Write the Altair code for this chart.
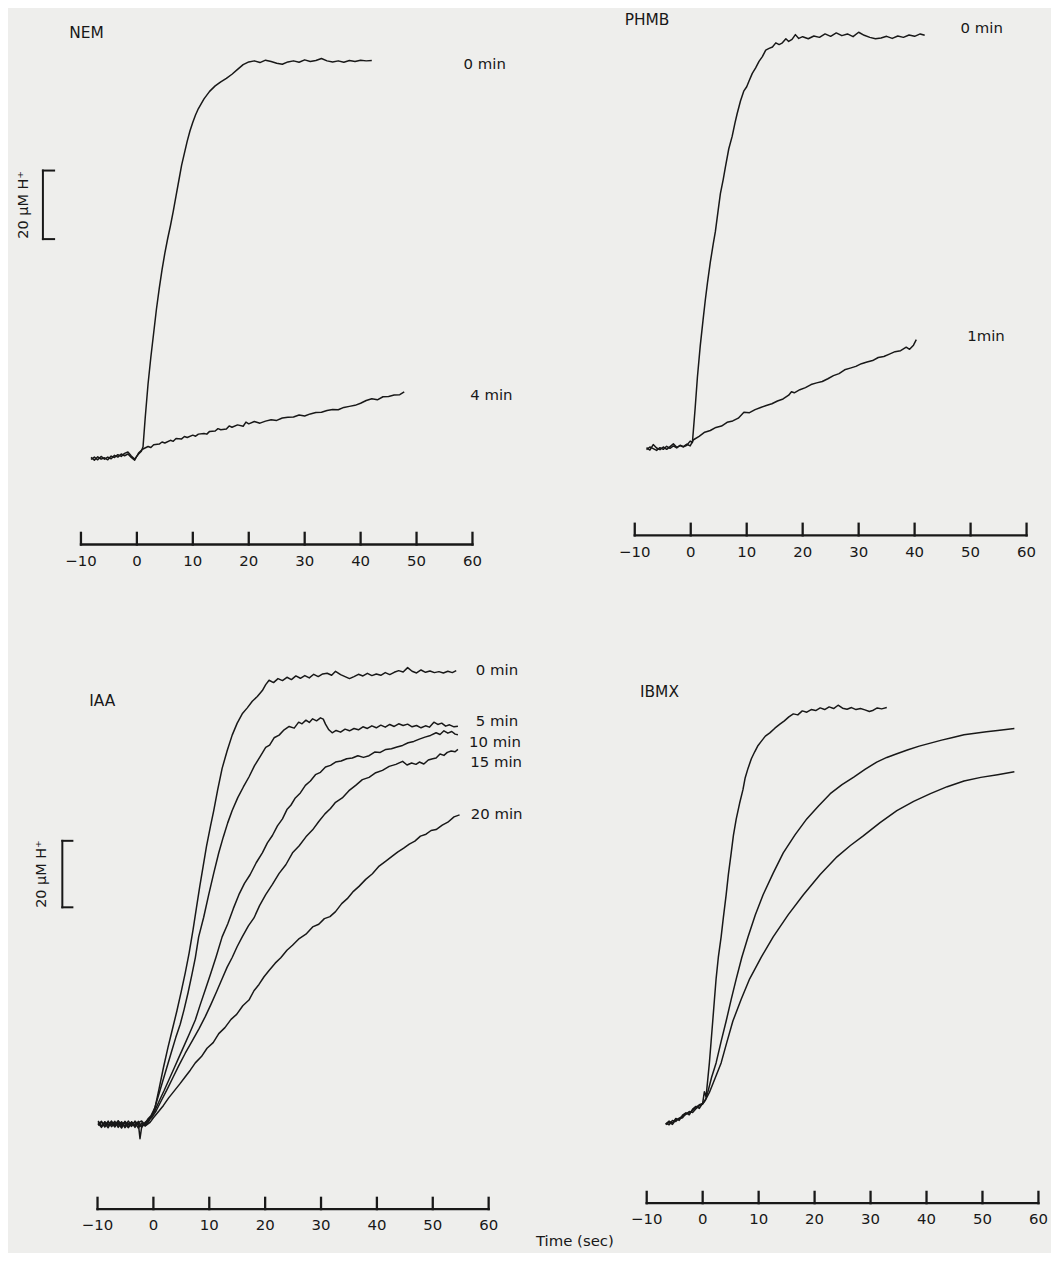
import altair as alt
import pandas as pd

# ---------------------------------------------------------------- data
TICKS = [-10, 0, 10, 20, 30, 40, 50, 60]
TICK_LABELS = ["\u221210", "0", "10", "20", "30", "40", "50", "60"]

# (time s, H+ uM)
NEM_0MIN = [(-8.2, 0.2), (-7.6, -0.6), (-7.0, 0.4), (-6.4, -0.3), (-5.8, 0.1), (-5.2, -0.5),
            (-4.6, 0.6), (-4.0, 0.2), (-3.4, 1.0), (-2.8, 0.5), (-2.2, 1.4), (-1.6, 1.8),
            (-1.0, 0.6), (-0.4, -0.3), (0.3, 1.2), (0.8, 2.0), (1.1, 3.3), (1.5, 12), (2.0, 21.7),
            (2.5, 29.5), (3.0, 36.5), (3.5, 43.5), (4.0, 49.5), (4.5, 55), (5.0, 59.8), (5.5, 64),
            (6.0, 67.8), (6.5, 72), (7.0, 76.5), (7.5, 81), (8.0, 85.5), (8.5, 89), (9.0, 92.5),
            (9.5, 95.5), (10, 98), (10.5, 100.2), (11, 102), (12, 104.8), (13, 107), (14, 108.6),
            (15, 109.8), (16, 110.8), (17, 112), (18, 113.4), (19, 114.8), (20, 115.6), (21, 115.9),
            (22, 115.4), (23, 116.1), (24, 115.7), (25, 115.2), (26, 114.9), (27, 115.6), (28, 115.9),
            (29, 115.5), (30, 116.2), (31, 115.7), (32, 116.0), (33, 116.6), (34, 115.9), (35, 115.6),
            (36, 115.9), (37, 115.5), (38, 116.0), (39, 115.7), (40, 116.1), (41, 115.9), (42, 116.0)]
NEM_4MIN = [(-8.2, -0.4), (-7.6, 0.3), (-7.0, -0.5), (-6.4, 0.5), (-5.8, -0.3), (-5.2, 0.3),
            (-4.6, -0.2), (-4.0, 0.8), (-3.4, 0.3), (-2.8, 1.2), (-2.2, 0.7), (-1.6, 1.2),
            (-1.0, 0.2), (-0.4, -0.6), (0.3, 1.5), (1, 2.6), (2, 3.4), (2.5, 3.1), (3, 3.9), (4, 4.1),
            (4.5, 4.7), (5, 4.4), (6, 5.2), (6.5, 4.9), (7, 5.7), (8, 5.6), (8.5, 6.3), (9, 6.0),
            (10, 6.7), (10.5, 6.4), (11, 7.0), (12, 7.2), (12.5, 7.0), (13, 7.8), (14, 7.9), (14.5, 8.6),
            (15, 8.3), (16, 8.5), (16.5, 9.4), (17, 9.0), (18, 9.7), (19, 9.3), (19.5, 10.5), (20, 10.0),
            (21, 10.7), (22, 10.2), (23, 10.8), (24, 11.2), (25, 11.0), (26, 11.7), (27, 11.9),
            (28, 12.0), (29, 12.6), (30, 12.3), (31, 12.9), (32, 13.3), (33, 13.4), (34, 13.9),
            (35, 14.2), (36, 14.1), (37, 14.8), (38, 15.1), (39, 15.4), (40, 16.0), (41, 16.8),
            (42, 17.3), (43, 17.0), (44, 17.9), (45, 18.0), (46, 18.4), (47, 18.5), (47.8, 19.3)]

PHMB_0MIN = [(-7.9, 0.3), (-7.3, -0.4), (-6.7, 1.2), (-6.1, 0.2), (-5.5, -0.3), (-4.9, 0.5),
             (-4.3, -0.2), (-3.7, 0.6), (-3.1, 1.4), (-2.5, 0.4), (-1.9, 0.9), (-1.3, 0.5),
             (-0.7, 1.0), (-0.1, 2.2), (0.3, 1.8), (0.8, 12), (1.2, 21), (1.7, 30), (2.2, 37.5),
             (2.6, 43.3), (3.0, 48.5), (3.5, 54.4), (4.0, 59.5), (4.4, 63.3), (4.9, 69.5), (5.3, 74.4),
             (5.8, 78.5), (6.2, 82.2), (6.8, 87.5), (7.4, 91.1), (7.9, 95), (8.3, 97.8), (8.9, 101.5),
             (9.5, 104.4), (10.0, 105.6), (10.4, 107.2), (11.0, 109.5), (11.6, 111.1), (12.2, 113),
             (12.8, 114.4), (13.4, 116.3), (14.0, 116.8), (14.6, 117.2), (15.2, 118.4), (15.8, 117.9),
             (16.3, 118.3), (17, 119.6), (17.5, 118.8), (18.1, 119.4), (18.7, 120.8), (19.3, 119.7),
             (20, 120.2), (21, 119.6), (22, 120.4), (23, 120.0), (24, 121.0), (25, 120.3), (26, 121.3),
             (27, 120.5), (28, 121.0), (29, 120.2), (30, 121.5), (31, 120.6), (32, 120.0), (33, 119.6),
             (34, 119.8), (35, 120.3), (36, 119.7), (37, 120.4), (38, 120.0), (39, 120.7), (40, 120.3),
             (41, 121.0), (41.8, 120.6)]
PHMB_1MIN = [(-7.9, -0.3), (-7.3, 0.5), (-6.7, 0.0), (-6.1, -0.5), (-5.5, 0.3), (-4.9, -0.2),
             (-4.3, 0.7), (-3.7, 0.1), (-3.1, 0.8), (-2.5, 0.2), (-1.9, 1.0), (-1.3, 0.6),
             (-0.7, 1.3), (-0.1, 0.8), (0.5, 2.6), (1.5, 3.6), (2.5, 4.8), (3.5, 5.3), (4.5, 6.2),
             (5.5, 6.6), (6.5, 7.7), (7.5, 8.1), (8.5, 8.9), (9.5, 10.6), (10.5, 10.5), (11.5, 11.4),
             (12.5, 12.0), (13.5, 12.6), (14.5, 13.1), (15.5, 13.9), (16.5, 14.5), (17.5, 15.6),
             (18.0, 16.6), (18.5, 16.3), (19.5, 17.2), (20.5, 17.8), (21.5, 18.7), (22.5, 19.2),
             (23.5, 19.6), (24.5, 20.4), (25.5, 21.3), (26.5, 21.9), (27.5, 23.0), (28.5, 23.5),
             (29.5, 24.0), (30.5, 24.8), (31.5, 25.3), (32.5, 25.7), (33.5, 26.6), (34.5, 26.9),
             (35.5, 27.6), (36.5, 28.3), (37.5, 28.6), (38.5, 29.6), (39.1, 29.0), (39.8, 30.2),
             (40.3, 31.8)]

IAA_0MIN = [(-9.9, 0.5), (-9.3, -0.8), (-8.7, 0.6), (-8.1, -0.4), (-7.5, 0.9), (-6.9, -0.6),
            (-6.3, 0.3), (-5.7, -1.2), (-5.1, 0.4), (-4.5, -0.9), (-3.9, 0.7), (-3.3, -0.5),
            (-2.7, 0.8), (-2.1, -1.0), (-1.5, 0.2), (-1.0, 1.5), (-0.4, 2.6), (0.3, 5.0), (1.0, 10.5),
            (1.8, 17.0), (2.6, 23.0), (3.4, 28.5), (4.2, 34.0), (5.0, 40.0), (5.7, 45.5), (6.4, 51.5),
            (7.1, 58.5), (7.7, 65.0), (8.3, 71.5), (8.9, 77.5), (9.5, 83.5), (10.2, 89.5), (10.8, 94.3),
            (11.5, 100.5), (12.3, 107), (13.2, 112.3), (14.1, 117), (15.0, 120.6), (15.9, 123.4),
            (16.8, 125.2), (17.7, 127.2), (18.6, 128.6), (19.5, 130.4), (20.1, 132.2), (20.7, 133.5),
            (21.5, 132.8), (22.3, 134.0), (23.1, 133.4), (23.9, 134.4), (24.7, 133.7), (25.5, 134.8),
            (26.3, 134.1), (27.1, 134.9), (27.9, 134.2), (28.7, 135.3), (29.5, 134.6), (30.3, 135.4),
            (31.1, 135.6), (31.9, 135.0), (32.6, 136.2), (33.5, 135.2), (34.3, 134.6), (35.1, 134.0),
            (35.9, 134.6), (36.7, 135.3), (37.5, 134.8), (38.3, 135.6), (39.1, 134.9), (39.9, 135.4),
            (40.7, 135.0), (41.5, 135.8), (42.3, 135.2), (43.1, 135.9), (43.9, 136.4), (44.7, 136.0),
            (45.5, 137.3), (46.3, 136.2), (47.1, 135.7), (47.9, 136.6), (48.7, 135.9), (49.5, 136.3),
            (50.3, 135.8), (51.1, 136.1), (51.9, 135.7), (52.7, 136.2), (53.5, 135.8), (54.2, 136.4)]
IAA_5MIN = [(-9.9, -0.4), (-9.3, 0.6), (-8.7, -0.9), (-8.1, 0.5), (-7.5, -0.3), (-6.9, 0.8),
            (-6.3, -1.0), (-5.7, 0.4), (-5.1, -0.7), (-4.5, 0.9), (-3.9, -0.4), (-3.3, 0.6),
            (-2.7, -1.2), (-2.1, 0.3), (-1.5, -0.6), (-0.9, 0.6), (0.0, 3.5), (0.8, 8.0), (1.6, 12.5),
            (2.4, 17.0), (3.2, 21.5), (4.0, 26.0), (4.8, 30.0), (5.5, 34.5), (6.2, 39.5), (6.9, 45.0),
            (7.5, 50.0), (8.1, 56.3), (9.0, 62.2), (9.9, 69), (10.8, 75.5), (11.7, 81.6), (12.5, 86.3),
            (13.3, 90.6), (14.1, 94.3), (15.1, 98.2), (16.1, 101.4), (17.1, 104.4), (18.1, 107.8),
            (19.1, 110.5), (20.1, 113.3), (20.8, 114.0), (21.6, 116.2), (22.5, 117.0), (23.4, 118.6),
            (24.3, 119.6), (25.2, 119.1), (26.0, 120.9), (26.6, 120.4), (27.3, 121.5), (27.9, 120.8),
            (28.5, 121.9), (29.2, 121.3), (29.9, 122.2), (30.4, 121.8), (30.8, 120.3), (31.4, 118.6),
            (32.0, 117.7), (32.7, 118.4), (33.5, 117.9), (34.3, 118.8), (35.1, 118.3), (35.9, 119.0),
            (36.7, 118.6), (37.5, 119.5), (38.3, 119.0), (39.1, 119.8), (39.9, 119.2), (40.7, 120.0),
            (41.5, 119.4), (42.3, 120.2), (43.1, 119.6), (43.9, 120.4), (44.7, 119.9), (45.5, 120.3),
            (46.3, 119.5), (47.1, 119.9), (47.9, 119.2), (48.7, 119.8), (49.4, 119.4), (50.2, 120.9),
            (50.9, 120.2), (51.6, 120.6), (52.3, 119.7), (53.0, 120.1), (53.8, 119.5), (54.5, 119.7)]
IAA_10MIN = [(-9.9, 0.9), (-9.3, -0.5), (-8.7, 0.2), (-8.1, -1.1), (-7.5, 0.6), (-6.9, -0.2),
             (-6.3, 1.0), (-5.7, -0.7), (-5.1, 0.8), (-4.5, -0.3), (-3.9, 0.5), (-3.3, -1.0),
             (-2.7, 0.4), (-2.1, 0.9), (-1.5, -0.2), (-0.6, 1.9), (0.2, 3.8), (1.0, 6.8), (1.9, 10.0),
             (2.8, 13.4), (3.7, 16.8), (4.6, 20.2), (5.5, 23.6), (6.5, 27.4), (7.5, 31.3), (8.4, 36.0),
             (9.3, 40.5), (10.2, 45.0), (11.2, 50.2), (12.3, 56.3), (13.3, 60.2), (14.3, 64.8),
             (15.3, 69), (16.3, 72.4), (17.3, 75.0), (18.4, 78.6), (19.5, 81.6), (20.4, 84.6),
             (21.3, 86.8), (22.2, 89.7), (23.1, 91.8), (23.9, 94.6), (24.6, 95.9), (25.4, 98.1),
             (26.3, 99.6), (27.2, 101.9), (28.1, 103.2), (29.0, 105.1), (29.9, 105.8), (30.8, 107.4),
             (31.7, 107.9), (32.6, 108.9), (33.6, 109.2), (34.6, 109.9), (35.6, 110.1), (36.6, 110.8),
             (37.6, 110.3), (38.6, 110.8), (39.6, 111.9), (40.6, 111.8), (41.6, 112.7), (42.6, 112.9),
             (43.6, 113.4), (44.6, 113.9), (45.6, 114.7), (46.6, 115.1), (47.6, 115.8), (48.6, 116.4),
             (49.6, 116.9), (50.6, 117.7), (51.3, 117.2), (52.0, 118.3), (52.7, 117.6), (53.4, 118.1),
             (54.0, 117.3), (54.5, 117.1)]
IAA_15MIN = [(-9.9, -0.2), (-9.3, 0.8), (-8.7, -0.6), (-8.1, 0.9), (-7.5, -0.8), (-6.9, 0.3),
             (-6.3, -0.4), (-5.7, 0.7), (-5.1, -1.1), (-4.5, 0.2), (-3.9, -0.7), (-3.3, 0.9),
             (-2.7, -0.2), (-2.1, -0.8), (-1.5, 0.5), (-0.3, 1.9), (0.5, 4.0), (1.5, 7.3), (2.5, 10.6),
             (3.5, 14.0), (4.5, 17.4), (5.7, 21.3), (7.0, 25.2), (8.2, 28.8), (9.3, 32.4), (10.3, 36.0),
             (11.3, 39.8), (12.3, 43.7), (13.2, 47.2), (14.1, 50.1), (15.0, 53.4), (15.9, 56.3),
             (17.0, 59.6), (18.0, 62.0), (19.0, 65.7), (20.1, 69), (21.3, 72.1), (22.5, 75.4),
             (23.7, 78.0), (24.9, 81.6), (26.1, 83.7), (27.3, 86.4), (28.5, 88.5), (29.6, 91.0),
             (30.7, 93.3), (31.7, 94.9), (32.6, 96.8), (33.8, 98.1), (35.0, 100.3), (36.2, 101.9),
             (37.4, 103.6), (38.6, 104.3), (39.8, 105.7), (41.0, 106.4), (42.2, 107.6), (43.4, 108.2),
             (44.6, 109.1), (45.4, 108.0), (46.2, 108.6), (47.0, 108.2), (47.6, 108.9), (48.4, 108.3),
             (49.2, 109.5), (50.0, 109.9), (50.6, 110.1), (51.3, 111.3), (52.0, 110.9), (52.6, 111.8),
             (53.3, 112.2), (54.0, 112.0), (54.5, 112.7)]
IAA_20MIN = [(-9.9, 0.2), (-9.3, -1.0), (-8.7, 0.7), (-8.1, -0.3), (-7.5, 0.4), (-6.9, -0.9),
             (-6.3, 0.8), (-5.7, -0.1), (-5.1, 0.6), (-4.5, -1.1), (-3.9, 0.3), (-3.3, -0.4),
             (-2.7, 0.2), (-2.4, -4.4), (-2.0, 0.3), (-1.4, -0.5), (-0.6, 0.5), (0, 1.9), (1.0, 3.9),
             (1.8, 5.6), (2.7, 7.8), (3.7, 9.9), (4.7, 12.0), (5.6, 14.0), (6.6, 16.2), (7.5, 18.4),
             (8.6, 20.3), (9.6, 22.8), (10.7, 24.5), (11.7, 27.2), (12.8, 29.0), (13.9, 31.5),
             (14.9, 33.0), (16.0, 35.6), (17.1, 37.3), (18.0, 40.1), (18.9, 42.0), (19.8, 44.3),
             (20.7, 46.2), (21.8, 48.4), (22.8, 50.0), (23.9, 52.3), (24.9, 53.8), (26.1, 55.8),
             (27.3, 57.1), (28.5, 59.3), (29.6, 60.1), (30.6, 61.8), (31.6, 62.4), (32.6, 63.9),
             (33.7, 66.3), (34.7, 67.8), (35.8, 70.0), (36.8, 71.5), (38.0, 73.6), (39.2, 75.3),
             (40.4, 77.6), (41.6, 79.1), (42.7, 80.5), (43.7, 81.8), (44.8, 83.0), (45.8, 84.2),
             (46.8, 85.1), (47.8, 86.6), (48.8, 87.2), (49.7, 88.3), (50.6, 88.6), (51.7, 89.9),
             (52.7, 90.8), (53.8, 92.4), (54.8, 93.0)]

IBMX_A = [(-6.6, -5.7), (-6.0, -4.8), (-5.4, -5.4), (-4.8, -4.0), (-4.2, -4.6), (-3.6, -3.0),
          (-3.0, -2.3), (-2.4, -2.9), (-1.8, -1.2), (-1.2, -0.4), (-0.6, -1.0), (0.0, 0.6),
          (0.3, 4.0), (0.6, 2.5), (0.9, 7.5), (1.2, 12.7), (1.5, 19.0), (1.8, 25.3), (2.1, 31.7),
          (2.4, 38), (2.8, 44.5), (3.3, 50.6), (3.7, 56.5), (4.2, 63.3), (4.6, 69.5), (5.1, 75.9),
          (5.5, 81.2), (6.0, 86.1), (6.6, 90.8), (7.2, 94.9), (7.6, 98.5), (8.1, 101.3), (8.7, 104.2),
          (9.3, 106.3), (9.9, 108.2), (10.5, 109.5), (11.2, 111.0), (12.0, 112.0), (12.9, 113.4),
          (13.8, 114.6), (14.6, 115.6), (15.4, 116.8), (16.2, 117.7), (17.0, 117.4), (17.8, 118.6),
          (18.6, 118.2), (19.4, 119.0), (20.2, 118.7), (21.0, 119.5), (21.8, 119.0), (22.6, 119.8),
          (23.4, 119.3), (24.2, 120.3), (25.0, 119.4), (25.8, 119.1), (26.6, 119.6), (27.4, 119.0),
          (28.2, 119.3), (29.0, 118.9), (29.8, 118.4), (30.5, 118.8), (31.2, 119.5), (32.0, 119.2),
          (32.9, 119.6)]
IBMX_B = [(-6.6, -5.4), (-6.0, -5.9), (-5.4, -4.6), (-4.8, -4.9), (-4.2, -3.9), (-3.6, -3.4),
          (-3.0, -2.8), (-2.4, -1.9), (-1.8, -2.2), (-1.2, -1.1), (-0.6, -0.2), (0.0, 0.3),
          (0.5, 1.5), (0.9, 3.8), (1.6, 8.4), (2.4, 12.7), (3.3, 19.2), (4.2, 25.3), (5.1, 31.8),
          (6.0, 38), (7.0, 44.5), (8.1, 50.6), (9.4, 57.2), (10.8, 63.3), (12.6, 69.8), (14.4, 75.9),
          (16.5, 81.3), (18.6, 86.1), (20.7, 90.0), (22.8, 93.7), (24.9, 96.4), (27.0, 98.7),
          (29.0, 101.0), (31.1, 103.2), (32.9, 104.6), (34.7, 105.7), (36.7, 106.9), (38.7, 108.0),
          (40.7, 108.9), (42.7, 109.8), (44.7, 110.6), (46.7, 111.4), (48.7, 111.9), (50.7, 112.3),
          (52.7, 112.7), (54.2, 113.0), (55.7, 113.3)]
IBMX_C = [(-6.6, -5.9), (-6.0, -5.2), (-5.4, -5.8), (-4.8, -4.4), (-4.2, -4.1), (-3.6, -3.8),
          (-3.0, -2.5), (-2.4, -2.4), (-1.8, -1.6), (-1.2, -0.7), (-0.6, 0.1), (0.0, 0.5),
          (0.6, 1.9), (1.2, 3.8), (2.2, 8.0), (3.3, 12.7), (4.3, 18.8), (5.4, 25.3), (6.9, 31.9),
          (8.4, 38), (10.5, 44.6), (12.6, 50.6), (15.3, 57.3), (18.0, 63.3), (21.0, 69.4),
          (24.0, 74.7), (26.4, 78.1), (28.7, 81), (31.7, 85.0), (34.7, 88.6), (37.7, 91.4),
          (40.7, 93.7), (43.7, 95.8), (46.7, 97.5), (49.7, 98.6), (52.7, 99.4), (55.7, 100.3)]

# ---------------------------------------------------------------- styling / layout
INK = "#181818"
PAPER = "#eeeeec"
FONT = "DejaVu Sans"
PANEL_W, PANEL_H = 524, 621

# panel-local pixel position of t=0 and of the 0-uM baseline, and the pixel scales
PANELS = [
    dict(name="NEM", zero_x=129.5, base_y=449.3, px_s=5.62, px_uM=3.444,
         series=[("0 min", NEM_0MIN), ("4 min", NEM_4MIN)],
         title=(-12.1, 124.1),
         labels=[("0 min", 58.4, 115.0), ("4 min", 59.6, 18.3)],
         axis=(-25.2, 3.4, -30.0),
         bar=dict(t=-16.8, t2=-14.8, lo=63.9, hi=83.9, label_t=-20.2)),
    dict(name="PHMB", zero_x=162.0, base_y=439.8, px_s=5.624, px_uM=3.444,
         series=[("0 min", PHMB_0MIN), ("1 min", PHMB_1MIN)],
         title=(-11.8, 125.0),
         labels=[("0 min", 48.2, 122.8), ("1min", 49.4, 32.8)],
         axis=(-25.3, 3.4, -30.1),
         bar=None),
    dict(name="IAA", zero_x=146.1, base_y=497.4, px_s=5.614, px_uM=3.34,
         series=[("0 min", IAA_0MIN), ("5 min", IAA_5MIN), ("10 min", IAA_10MIN),
                 ("15 min", IAA_15MIN), ("20 min", IAA_20MIN)],
         title=(-11.5, 127.2),
         labels=[("0 min", 57.7, 136.7), ("5 min", 57.7, 121.1), ("10 min", 56.5, 114.8),
                 ("15 min", 56.7, 108.9), ("20 min", 56.8, 93.3)],
         axis=(-25.6, 3.4, -30.4),
         bar=dict(t=-16.3, t2=-14.5, lo=65.2, hi=85.2, label_t=-19.9)),
    dict(name="IBMX", zero_x=174.0, base_y=478.4, px_s=5.623, px_uM=3.34,
         series=[("a", IBMX_A), ("b", IBMX_B), ("c", IBMX_C)],
         title=(-11.2, 124.3),
         labels=[],
         axis=(-29.5, 3.4, -34.2),
         bar=None,
         xlabel=("Time (sec)", -29.8, -40.9)),
]


def make_panel(p):
    xdom = [-p["zero_x"] / p["px_s"], (PANEL_W - p["zero_x"]) / p["px_s"]]
    ydom = [(p["base_y"] - PANEL_H) / p["px_uM"], p["base_y"] / p["px_uM"]]
    X = alt.X("t:Q", scale=alt.Scale(domain=xdom, nice=False, zero=False), axis=None)
    Y = alt.Y("v:Q", scale=alt.Scale(domain=ydom, nice=False, zero=False), axis=None)

    rows = []
    for name, pts in p["series"]:
        for t, v in pts:
            rows.append({"t": t, "v": v, "trace": name})
    traces = alt.Chart(pd.DataFrame(rows)).mark_line(
        color=INK, strokeWidth=1.5, strokeJoin="round"
    ).encode(x=X, y=Y, detail="trace:N")

    level, tick_len, lab_level = p["axis"]
    axis_rows = [{"t": TICKS[0], "t2": TICKS[-1], "v": level, "v2": level}]
    axis_rows += [{"t": k, "t2": k, "v": level, "v2": level + tick_len} for k in TICKS]
    axis = alt.Chart(pd.DataFrame(axis_rows)).mark_rule(
        color=INK, strokeWidth=2.3, strokeCap="square"
    ).encode(x=X, x2="t2:Q", y=Y, y2="v2:Q")

    tick_text = alt.Chart(pd.DataFrame(
        {"t": TICKS, "v": [lab_level] * len(TICKS), "text": TICK_LABELS}
    )).mark_text(font=FONT, fontSize=15, color=INK, align="center", baseline="middle").encode(
        x=X, y=Y, text="text:N")

    title = alt.Chart(pd.DataFrame(
        [{"t": p["title"][0], "v": p["title"][1], "text": p["name"]}]
    )).mark_text(font=FONT, fontSize=15.5, color=INK, align="left", baseline="middle").encode(
        x=X, y=Y, text="text:N")

    texts = [{"t": t, "v": v, "text": s} for s, t, v in p["labels"]]
    if "xlabel" in p:
        s, t, v = p["xlabel"]
        texts.append({"t": t, "v": v, "text": s})
    layers = [axis, tick_text, traces, title]
    if texts:
        labels = alt.Chart(pd.DataFrame(texts)).mark_text(
            font=FONT, fontSize=15, color=INK, align="left", baseline="middle"
        ).encode(x=X, y=Y, text="text:N")
        layers.append(labels)

    b = p["bar"]
    if b:
        bar_rows = [
            {"t": b["t"], "t2": b["t"], "v": b["lo"], "v2": b["hi"]},
            {"t": b["t"], "t2": b["t2"], "v": b["lo"], "v2": b["lo"]},
            {"t": b["t"], "t2": b["t2"], "v": b["hi"], "v2": b["hi"]},
        ]
        bar = alt.Chart(pd.DataFrame(bar_rows)).mark_rule(
            color=INK, strokeWidth=2.0, strokeCap="square"
        ).encode(x=X, x2="t2:Q", y=Y, y2="v2:Q")
        bar_text = alt.Chart(pd.DataFrame(
            [{"t": b["label_t"], "v": (b["lo"] + b["hi"]) / 2, "text": "20 \u00b5M H\u207a"}]
        )).mark_text(font=FONT, fontSize=14.5, color=INK, angle=270, align="center",
                     baseline="middle").encode(x=X, y=Y, text="text:N")
        layers += [bar, bar_text]

    return alt.layer(*layers).properties(width=PANEL_W, height=PANEL_H)


chart = alt.concat(
    *[make_panel(p) for p in PANELS], columns=2, spacing=0, bounds="flush"
).properties(padding=0).configure(background=PAPER).configure_view(strokeWidth=0)

chart.save("out.html", embed_options={"renderer": "svg", "actions": False})
